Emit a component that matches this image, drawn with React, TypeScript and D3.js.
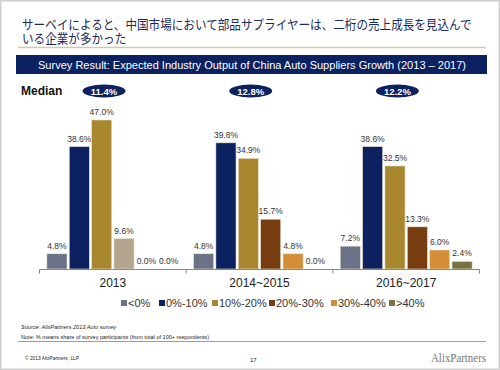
import * as d3 from 'd3';

const periods = ['2013', '2014~2015', '2016~2017'];
const ranges = ['<0%', '0%-10%', '10%-20%', '20%-30%', '30%-40%', '>40%'];
// share of respondents per range, one row per period
const shares = [
  [4.8, 38.6, 47.0, 9.6, 0.0, 0.0],
  [4.8, 39.8, 34.9, 15.7, 4.8, 0.0],
  [7.2, 38.6, 32.5, 13.3, 6.0, 2.4],
];
const medians = ['11.4%', '12.8%', '12.2%'];
const rangeColors = ['#6b7288', '#0b2160', '#a8872f', '#773c10', '#d38e37', '#787244'];

const W = 500;
const H = 370;
const font = 'Arial, "Liberation Sans", sans-serif';
const jpFont = '"Noto Sans CJK JP", sans-serif';

export default function App() {
  const x0 = d3.scaleBand().domain(periods).range([39.5, 479.5]).paddingInner(0).paddingOuter(0);
  const x1 = d3.scaleBand().domain(ranges).range([0, x0.bandwidth()]).paddingInner(0.1).paddingOuter(0.33);
  const y = d3.scaleLinear().domain([0, 47]).range([269, 120]);

  const colorFor = (pi: number, ri: number) =>
    pi === 0 && ri === 3 ? '#b4a68e' : rangeColors[ri];

  return (
    <svg width={W} height={H} style={{ position: 'absolute', left: 0, top: 0 }} fontFamily={font}>
      <rect x={0} y={0} width={W} height={H} fill="#fff" />
      <rect x={0.75} y={0.75} width={W - 1.5} height={H - 1.5} fill="none" stroke="#cfcfcf" strokeWidth={1.5} />

      {/* two-line Japanese headline, slightly stretched vertically */}
      <g transform="translate(22,28.5) scale(1,1.12)">
        <text x={0} y={0} fontSize={11.6} fill="#1b2a5c" fontFamily={jpFont}>
          <tspan x={0} dy={0}>サーベイによると、中国市場において部品サプライヤーは、二桁の売上成長を見込んで</tspan>
          <tspan x={0} dy={12.95}>いる企業が多かった</tspan>
        </text>
      </g>
      <line x1={18} x2={486} y1={47.5} y2={47.5} stroke="#d8c7a4" strokeWidth={1.5} />

      <rect x={16} y={55} width={471} height={19} fill="#0b2160" />
      <text x={38} y={68.5} fontSize={11.5} fill="#fff" textLength={428} lengthAdjust="spacingAndGlyphs">
        Survey Result: Expected Industry Output of China Auto Suppliers Growth (2013 – 2017)
      </text>

      <text x={21} y={95} fontSize={12} fontWeight="bold" fill="#111">Median</text>
      {medians.map((m, i) => {
        const cx = (x0(periods[i]) as number) + x0.bandwidth() * 0.44;
        return (
          <g key={m}>
            <ellipse cx={cx} cy={91} rx={21.5} ry={6.5} fill="#0b2160" />
            <text x={cx} y={94.5} fontSize={9.5} fontWeight="bold" fill="#fff" textAnchor="middle">{m}</text>
          </g>
        );
      })}

      {shares.map((row, pi) => (
        <g key={periods[pi]} transform={`translate(${x0(periods[pi])},0)`}>
          {row.map((v, ri) => {
            const bx = x1(ranges[ri]) as number;
            return (
              <g key={ranges[ri]}>
                {v > 0 && (
                  <rect x={bx} y={y(v)} width={x1.bandwidth()} height={y(0) - y(v)}
                    fill={colorFor(pi, ri)} stroke="#e8e2d2" strokeWidth={0.6} />
                )}
                <text x={bx + x1.bandwidth() / 2} y={y(v) - 5} fontSize={8.5} fill="#333" textAnchor="middle">
                  {v.toFixed(1)}%
                </text>
              </g>
            );
          })}
        </g>
      ))}

      <line x1={39.5} x2={479.5} y1={269.5} y2={269.5} stroke="#888" strokeWidth={1} />
      {[...periods.map(p => x0(p) as number), 479.5].map((tx, i) => (
        <line key={i} x1={tx} x2={tx} y1={269.5} y2={273.5} stroke="#888" />
      ))}
      {periods.map(p => (
        <text key={p} x={(x0(p) as number) + x0.bandwidth() / 2} y={286.5} fontSize={12} fill="#222" textAnchor="middle">
          {p}
        </text>
      ))}

      {ranges.map((r, i) => {
        const lx = [121, 159, 212, 269, 331, 389][i];
        return (
          <g key={r}>
            <rect x={lx} y={300} width={6} height={6} fill={rangeColors[i]} />
            <text x={lx + 7} y={307} fontSize={11} fill="#333">{r}</text>
          </g>
        );
      })}

      <text x={21} y={329} fontSize={6} fontStyle="italic" fill="#222" textLength={95} lengthAdjust="spacingAndGlyphs">
        Source: AlixPartners 2013 Auto survey
      </text>
      <text x={21} y={338.5} fontSize={6} fill="#222" textLength={188} lengthAdjust="spacingAndGlyphs">
        Note: % means share of survey participants (from total of 100+ respondents)
      </text>
      <line x1={18} x2={486} y1={341.5} y2={341.5} stroke="#b49a63" strokeWidth={1} />

      <text x={25} y={360} fontSize={5.5} fill="#222" textLength={54} lengthAdjust="spacingAndGlyphs">
        © 2013 AlixPartners, LLP
      </text>
      <text x={250} y={362} fontSize={6} fill="#222">17</text>
      <text x={486} y={362} fontSize={12.5} fill="#777" textAnchor="end" fontFamily='"Liberation Serif", serif'
        textLength={55} lengthAdjust="spacingAndGlyphs">
        AlixPartners
      </text>
    </svg>
  );
}
